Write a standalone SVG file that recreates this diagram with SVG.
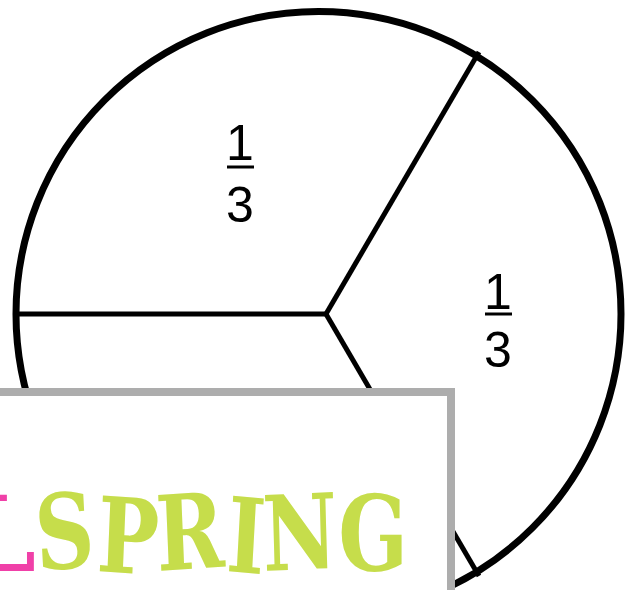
<svg xmlns="http://www.w3.org/2000/svg" width="639" height="590" viewBox="0 0 639 590">
<style>
.frac{font-family:"Liberation Sans","DejaVu Sans",sans-serif;font-size:50px;fill:#000;text-anchor:middle}
.bar{stroke:#000;stroke-width:3}
.spoke{stroke:#000;stroke-width:5;fill:none;stroke-linecap:butt}
.title{font-family:"DejaVu Serif","Liberation Serif",serif;font-weight:bold;font-size:104px}
</style>
<rect width="639" height="590" fill="#fff"/>
<g id="circle">
<circle cx="318.5" cy="314" r="302.5" fill="#fff" stroke="#000" stroke-width="7"/>
</g>
<g id="connectors">
<line class="spoke" x1="326" y1="314" x2="16" y2="314"/>
<line class="spoke" x1="326" y1="314" x2="479" y2="52"/>
<line class="spoke" x1="326" y1="314" x2="479" y2="576"/>
</g>
<g id="frac-top">
<text class="frac" x="240" y="160">1</text>
<line class="bar" x1="227" y1="167" x2="254" y2="167"/>
<text class="frac" x="240" y="222">3</text>
</g>
<g id="frac-right">
<text class="frac" x="498" y="309">1</text>
<line class="bar" x1="485" y1="314" x2="512" y2="314"/>
<text class="frac" x="498" y="367">3</text>
</g>
<g id="label-box">
<rect x="-20" y="392" width="471" height="230" fill="#fff" stroke="#adadad" stroke-width="8"/>
<text class="title" x="36" y="571" fill="#f040a8" text-anchor="end">L</text>
<text class="title" x="37" y="571" fill="#c6dd4b" textLength="371" lengthAdjust="spacingAndGlyphs" rotate="-4 3 -3 4 -2 0">SPRING</text>
</g>
</svg>
